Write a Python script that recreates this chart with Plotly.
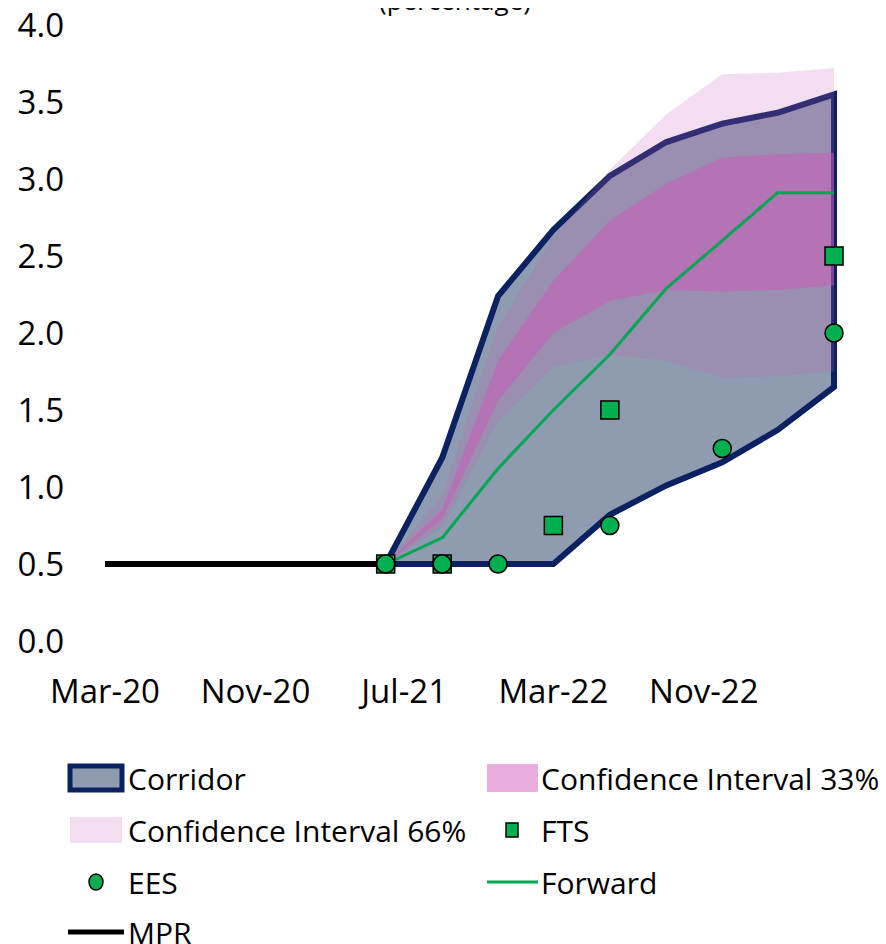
import plotly.graph_objects as go

FONT = "Open Sans"

# quarterly projection dates
quarters = ["2021-06-01", "2021-09-01", "2021-12-01", "2022-03-01", "2022-06-01",
            "2022-09-01", "2022-12-01", "2023-03-01", "2023-06-01"]

corridor_upper = [0.5, 1.19, 2.24, 2.67, 3.02, 3.24, 3.36, 3.43, 3.55]
corridor_lower = [0.5, 0.5, 0.5, 0.5, 0.82, 1.01, 1.16, 1.37, 1.65]

ci66_upper = [0.5, 0.94, 2.04, 2.62, 3.06, 3.42, 3.68, 3.69, 3.72]
ci66_lower = [0.5, 0.74, 1.43, 1.78, 1.86, 1.82, 1.71, 1.72, 1.75]

ci33_upper = [0.5, 0.85, 1.82, 2.34, 2.73, 2.97, 3.14, 3.16, 3.17]
ci33_lower = [0.5, 0.79, 1.56, 2.0, 2.21, 2.28, 2.27, 2.28, 2.31]

forward = [0.5, 0.67, 1.12, 1.5, 1.86, 2.29, 2.6, 2.91, 2.91]

fts_dates = ["2021-06-01", "2021-09-01", "2022-03-01", "2022-06-01", "2023-06-01"]
fts = [0.5, 0.5, 0.75, 1.5, 2.5]

ees_dates = ["2021-06-01", "2021-09-01", "2021-12-01", "2022-06-01", "2022-12-01", "2023-06-01"]
ees = [0.5, 0.5, 0.5, 0.75, 1.25, 2.0]

mpr_dates = ["2020-03-01", "2020-06-01", "2020-09-01", "2020-12-01", "2021-03-01", "2021-06-01"]
mpr = [0.5, 0.5, 0.5, 0.5, 0.5, 0.5]

NAVY = "#0B2161"
CORRIDOR_FILL = "#8E9BB0"
CI66_FILL = "rgba(198,93,184,0.21)"
CI33_FILL = "rgba(208,86,187,0.48)"
GREEN = "#00B050"
FWD_GREEN = "#00A651"

# the page body adds an 8px margin, so the figure is 8px smaller than the window
OFF = 8
W, H = 886 - OFF, 944 - OFF
# plot area in window pixels
L, T, PW, PH = 85, 25, 765, 616


def band(upper, lower):
    # closed polygon: along the upper edge, back along the lower edge
    return quarters + quarters[::-1], upper + lower[::-1]


def px(x):
    return (x - L) / PW


def py(y):
    return (T + PH - y) / PH


fig = go.Figure()

x, y = band(corridor_upper, corridor_lower)
fig.add_trace(go.Scatter(x=x, y=y, name="Corridor", fill="toself", fillcolor=CORRIDOR_FILL,
                         line=dict(color=NAVY, width=6), mode="lines"))

x, y = band(ci66_upper, ci66_lower)
fig.add_trace(go.Scatter(x=x, y=y, name="Confidence Interval 66%", fill="toself",
                         fillcolor=CI66_FILL, line=dict(width=0), mode="lines"))

x, y = band(ci33_upper, ci33_lower)
fig.add_trace(go.Scatter(x=x, y=y, name="Confidence Interval 33%", fill="toself",
                         fillcolor=CI33_FILL, line=dict(width=0), mode="lines"))

fig.add_trace(go.Scatter(x=mpr_dates, y=mpr, name="MPR", mode="lines",
                         line=dict(color="black", width=6)))

fig.add_trace(go.Scatter(x=quarters, y=forward, name="Forward", mode="lines",
                         line=dict(color=FWD_GREEN, width=3)))

fig.add_trace(go.Scatter(x=fts_dates, y=fts, name="FTS", mode="markers",
                         marker=dict(symbol="square", size=18, color=GREEN,
                                     line=dict(color="black", width=1.5))))

fig.add_trace(go.Scatter(x=ees_dates, y=ees, name="EES", mode="markers",
                         marker=dict(symbol="circle", size=18, color=GREEN,
                                     line=dict(color="black", width=1.5))))

fig.update_traces(showlegend=False)

# title, cut off at the top edge as in the source
fig.add_annotation(text="(percentage)", xref="paper", yref="paper", x=px(455),
                   y=py(20), xanchor="center", yanchor="bottom", showarrow=False,
                   font=dict(family=FONT, size=26, color="black"))

# legend, two columns
col1, col2 = 68, 487
rows = [778, 830, 882, 932]
kw = dict(xref="paper", yref="paper")

# Corridor
fig.add_shape(type="rect", x0=px(col1 + 2), x1=px(col1 + 54), y0=py(rows[0] - 12),
              y1=py(rows[0] + 12), fillcolor=CORRIDOR_FILL, line=dict(color=NAVY, width=5), **kw)
# CI 33%
fig.add_shape(type="rect", x0=px(col2), x1=px(col2 + 51), y0=py(rows[0] - 14),
              y1=py(rows[0] + 14), fillcolor=CI33_FILL, line=dict(width=0), **kw)
# CI 66%
fig.add_shape(type="rect", x0=px(col1 + 2), x1=px(col1 + 54), y0=py(rows[1] - 13),
              y1=py(rows[1] + 13), fillcolor=CI66_FILL, line=dict(width=0), **kw)
# FTS
fig.add_shape(type="rect", x0=px(col2 + 19), x1=px(col2 + 31), y0=py(rows[1] - 7),
              y1=py(rows[1] + 7), fillcolor=GREEN, line=dict(color="black", width=1.5), **kw)
# EES
fig.add_shape(type="circle", x0=px(col1 + 21), x1=px(col1 + 35), y0=py(rows[2] - 8),
              y1=py(rows[2] + 8), fillcolor=GREEN, line=dict(color="black", width=1.5), **kw)
# Forward
fig.add_shape(type="line", x0=px(col2), x1=px(col2 + 51), y0=py(rows[2]), y1=py(rows[2]),
              line=dict(color=FWD_GREEN, width=3), **kw)
# MPR
fig.add_shape(type="line", x0=px(col1), x1=px(col1 + 56), y0=py(rows[3]), y1=py(rows[3]),
              line=dict(color="black", width=5), **kw)

legend_text = [("Corridor", 126, rows[0]), ("Confidence Interval 33%", 539, rows[0]),
               ("Confidence Interval 66%", 126, rows[1]), ("FTS", 539, rows[1]),
               ("EES", 126, rows[2]), ("Forward", 539, rows[2]),
               ("MPR", 126, rows[3])]
for name, tx, ty in legend_text:
    fig.add_annotation(text=name, x=px(tx), y=py(ty), xanchor="left", yanchor="middle",
                       showarrow=False, font=dict(family=FONT, size=30, color="black"), **kw)

fig.update_layout(
    width=W, height=H,
    margin=dict(l=L - OFF, r=W - (L - OFF) - PW, t=T - OFF, b=H - (T - OFF) - PH,
                autoexpand=False),
    paper_bgcolor="white", plot_bgcolor="white",
    font=dict(family=FONT, size=33, color="black"),
    showlegend=False,
    xaxis=dict(type="date", range=["2020-01-28 10:00", "2023-06-27"],
               tick0="2020-03-01", dtick="M8", tickformat="%b-%y",
               showgrid=False, zeroline=False, showline=False, ticks="",
               ticklabelstandoff=28, automargin=False, ticklabeloverflow="allow"),
    yaxis=dict(range=[0, 4], dtick=0.5, tickformat=".1f", showgrid=False,
               zeroline=False, showline=False, ticks="", ticklabelstandoff=20,
               automargin=False, ticklabeloverflow="allow"),
)

fig.write_html("out.html")
